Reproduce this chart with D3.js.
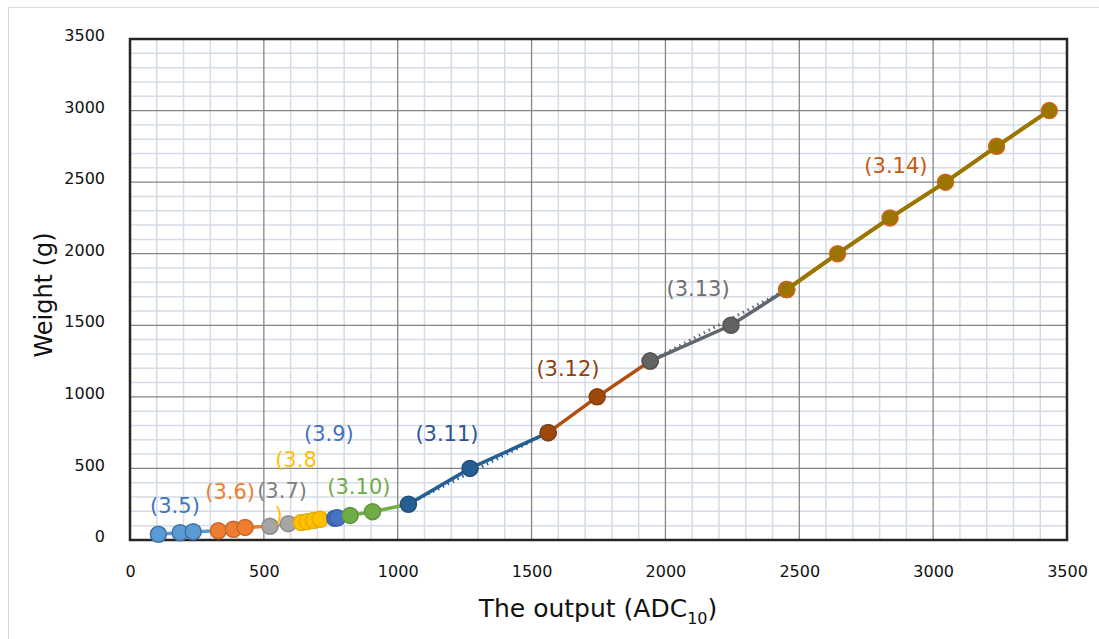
<!DOCTYPE html>
<html>
<head>
<meta charset="utf-8">
<script src="https://cdn.jsdelivr.net/npm/d3@7"></script>
<style>
  body { margin: 0; background: #fff; }
  svg { display: block; font-family: "DejaVu Sans", sans-serif; }
  .axis-title { fill: #111; }
  .series-label { font-size: 21px; }
</style>
</head>
<body>
<div id="chart"></div>
<script>
// data: [ADC output, weight (g)] per equation range
const s35  = [[106, 40], [187, 51], [236, 58]];
const s36  = [[330, 65], [386, 75], [430, 88]];
const s37  = [[523, 96], [591, 114]];
const s38  = [[640, 122], [662, 128], [685, 136], [710, 145]];
const s39  = [[765, 152], [775, 155]];
const s310 = [[822, 172], [906, 198]];
const s311 = [[1040, 250], [1270, 500], [1562, 750]];
const s312 = [[1562, 750], [1745, 1000], [1943, 1250]];
const s313 = [[1943, 1250], [2245, 1500], [2453, 1750]];
const s314 = [[2453, 1750], [2643, 2000], [2839, 2250], [3046, 2500], [3237, 2750], [3434, 3000]];

const seriesNames = ["(3.5)", "(3.6)", "(3.7)", "(3.8", "(3.9)", "(3.10)", "(3.11)", "(3.12)", "(3.13)", "(3.14)"];
const seriesData  = [s35, s36, s37, s38, s39, s310, s311, s312, s313, s314];

const xTicks = [0, 500, 1000, 1500, 2000, 2500, 3000, 3500];
const yTicks = [0, 500, 1000, 1500, 2000, 2500, 3000, 3500];

// styles (line, marker fill, marker stroke, label colour)
const styles = [
  { line: "#5B9BD5", fill: "#5B9BD5", stroke: "#41719C", text: "#3E75C0" },
  { line: "#ED7D31", fill: "#ED7D31", stroke: "#C9652A", text: "#ED7D31" },
  { line: "#A5A5A5", fill: "#A5A5A5", stroke: "#8C8C8C", text: "#7F7F7F" },
  { line: "#FFC000", fill: "#FFC000", stroke: "#E6AD00", text: "#FFC000" },
  { line: "#4472C4", fill: "#4472C4", stroke: "#3A62A8", text: "#4472C4" },
  { line: "#70AD47", fill: "#70AD47", stroke: "#5F943C", text: "#70AD47" },
  { line: "#255E91", fill: "#255E91", stroke: "#1F507B", text: "#2F5597", trend: true },
  { line: "#B0500F", fill: "#9E480E", stroke: "#8A3F0C", text: "#8E3F0C" },
  { line: "#5E6670", fill: "#636363", stroke: "#555555", text: "#6F6F6F", trend: true },
  { line: "#9C7500", fill: "#9C7500", stroke: "#D0661A", text: "#C55A11" }
];

// label anchor points in data units
const labelPos = [[168, 238], [374, 342], [568, 346], [620, 566], [743, 741], [855, 377],
                  [1184, 741], [1636, 1202], [2122, 1754], [2861, 2620]];

const width = 1099, height = 639;
const plot = { left: 130, right: 1067, top: 39, bottom: 540 };

const svg = d3.select("#chart").append("svg")
  .attr("width", width).attr("height", height);

// outer chart border
svg.append("rect")
  .attr("x", 8.5).attr("y", 7.5)
  .attr("width", width + 10).attr("height", height + 10)
  .attr("fill", "none").attr("stroke", "#D9D9D9").attr("stroke-width", 1);

const x = d3.scaleLinear().domain([0, 3500]).range([plot.left, plot.right]);
const y = d3.scaleLinear().domain([0, 3500]).range([plot.bottom, plot.top]);

// minor grid every 100
const minor = d3.range(100, 3500, 100).filter(v => v % 500 !== 0);
const grid = svg.append("g");
grid.selectAll(".vmin").data(minor).join("line")
  .attr("x1", d => x(d)).attr("x2", d => x(d))
  .attr("y1", plot.top).attr("y2", plot.bottom)
  .attr("stroke", "#D6DCE6").attr("stroke-width", 1.5);
grid.selectAll(".hmin").data(minor).join("line")
  .attr("y1", d => y(d)).attr("y2", d => y(d))
  .attr("x1", plot.left).attr("x2", plot.right)
  .attr("stroke", "#D6DCE6").attr("stroke-width", 1.5);

// major grid
grid.selectAll(".vmaj").data(xTicks.slice(1, -1)).join("line")
  .attr("x1", d => x(d)).attr("x2", d => x(d))
  .attr("y1", plot.top).attr("y2", plot.bottom)
  .attr("stroke", "#858585").attr("stroke-width", 1.3);
grid.selectAll(".hmaj").data(yTicks.slice(1, -1)).join("line")
  .attr("y1", d => y(d)).attr("y2", d => y(d))
  .attr("x1", plot.left).attr("x2", plot.right)
  .attr("stroke", "#858585").attr("stroke-width", 1.3);

// plot frame
svg.append("rect")
  .attr("x", plot.left).attr("y", plot.top)
  .attr("width", plot.right - plot.left).attr("height", plot.bottom - plot.top)
  .attr("fill", "none").attr("stroke", "#262626").attr("stroke-width", 2.5);

// axes (labels only, Excel style)
const fmt = d3.format("d");
const xAxis = svg.append("g")
  .attr("transform", `translate(0,${plot.bottom + 26})`)
  .call(d3.axisBottom(x).tickValues(xTicks).tickFormat(fmt).tickSize(0).tickPadding(0));
xAxis.select(".domain").remove();
xAxis.attr("font-family", null).attr("font-size", 16);
xAxis.selectAll("text").attr("fill", "#111");

const yAxis = svg.append("g")
  .attr("transform", `translate(${plot.left - 25},0)`)
  .call(d3.axisLeft(y).tickValues(yTicks).tickFormat(fmt).tickSize(0).tickPadding(0));
yAxis.select(".domain").remove();
yAxis.attr("font-family", null).attr("font-size", 16);
yAxis.selectAll("text").attr("fill", "#111").attr("dy", "0.1em");

// axis titles
svg.append("text")
  .attr("class", "axis-title")
  .attr("transform", "translate(52,295) rotate(-90)")
  .attr("text-anchor", "middle")
  .attr("font-size", 24)
  .text("Weight (g)");

const xt = svg.append("text")
  .attr("class", "axis-title")
  .attr("x", 598).attr("y", 617)
  .attr("text-anchor", "middle")
  .attr("font-size", 25);
xt.append("tspan").text("The output (ADC");
xt.append("tspan").attr("font-size", 16).attr("dy", 7).text("10");
xt.append("tspan").attr("dy", -7).text(")");

// series lines: each range joins on to the first point of the next one
const line = d3.line().x(d => x(d[0])).y(d => y(d[1]));
const marks = svg.append("g");

seriesData.forEach((pts, i) => {
  const next = seriesData[i + 1];
  const path = next ? pts.concat([next[0]]) : pts;
  marks.append("path")
    .attr("d", line(path))
    .attr("fill", "none")
    .attr("stroke", styles[i].line)
    .attr("stroke-width", 3.5);
  if (styles[i].trend) {
    marks.append("path")
      .attr("d", line([pts[0], pts[pts.length - 1]]))
      .attr("fill", "none")
      .attr("stroke", styles[i].line)
      .attr("stroke-width", 3)
      .attr("stroke-dasharray", "1.5,4");
  }
});

seriesData.forEach((pts, i) => {
  marks.append("g").selectAll("circle").data(pts).join("circle")
    .attr("cx", d => x(d[0]))
    .attr("cy", d => y(d[1]))
    .attr("r", 8)
    .attr("fill", styles[i].fill)
    .attr("stroke", styles[i].stroke)
    .attr("stroke-width", 1.5);
});

// the last range draws its line over the markers
marks.append("path")
  .attr("d", line(s314))
  .attr("fill", "none")
  .attr("stroke", styles[9].line)
  .attr("stroke-width", 4);

// equation labels
seriesNames.forEach((name, i) => {
  svg.append("text")
    .attr("class", "series-label")
    .attr("x", x(labelPos[i][0]))
    .attr("y", y(labelPos[i][1]))
    .attr("dy", "0.36em")
    .attr("text-anchor", "middle")
    .attr("fill", styles[i].text)
    .text(name);
});
// wrapped closing bracket of (3.8)
svg.append("text")
  .attr("class", "series-label")
  .attr("x", x(555)).attr("y", y(182))
  .attr("dy", "0.36em")
  .attr("text-anchor", "middle")
  .attr("fill", styles[3].text)
  .text(")");
</script>
</body>
</html>
